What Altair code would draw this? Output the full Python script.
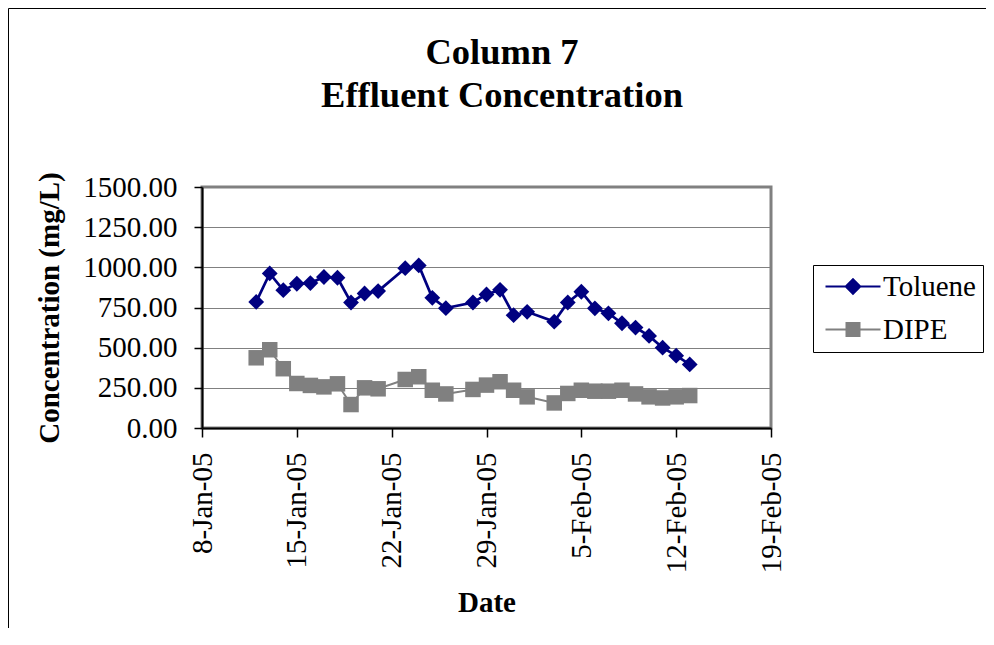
import altair as alt
import pandas as pd

# ---- data ----
dates = ["2005-01-12", "2005-01-13", "2005-01-14", "2005-01-15", "2005-01-16",
         "2005-01-17", "2005-01-18", "2005-01-19", "2005-01-20", "2005-01-21",
         "2005-01-23", "2005-01-24", "2005-01-25", "2005-01-26", "2005-01-28",
         "2005-01-29", "2005-01-30", "2005-01-31", "2005-02-01", "2005-02-03",
         "2005-02-04", "2005-02-05", "2005-02-06", "2005-02-07", "2005-02-08",
         "2005-02-09", "2005-02-10", "2005-02-11", "2005-02-12", "2005-02-13"]
toluene = [785, 962, 858, 898, 902, 940, 935, 781, 837, 852,
           995, 1012, 810, 746, 781, 831, 860, 702, 723, 662,
           781, 848, 745, 714, 652, 625, 573, 500, 450, 396]
dipe = [437, 487, 369, 277, 265, 256, 275, 146, 250, 244,
        302, 319, 235, 212, 240, 267, 288, 235, 194, 156,
        215, 235, 229, 229, 235, 212, 194, 187, 194, 202]
series_names = ["Toluene", "DIPE"]
series_colors = ["#000080", "#808080"]
y_ticks = [0, 250, 500, 750, 1000, 1250, 1500]
x_tick_dates = [(2005, 1, 8), (2005, 1, 15), (2005, 1, 22), (2005, 1, 29),
                (2005, 2, 5), (2005, 2, 12), (2005, 2, 19)]

rows = []
for d, t, p in zip(dates, toluene, dipe):
    rows.append({"date": d + "T00:00:00", "series": "Toluene", "value": t})
    rows.append({"date": d + "T00:00:00", "series": "DIPE", "value": p})
df = pd.DataFrame(rows)

FONT = "Liberation Serif"
tick_vals = [alt.DateTime(year=y, month=m, date=d) for (y, m, d) in x_tick_dates]

x_enc = alt.X("date:T",
              scale=alt.Scale(domain=[tick_vals[0], tick_vals[-1]], nice=False),
              axis=alt.Axis(values=tick_vals, format="%-d-%b-%y", labelAngle=-90,
                            title="Date", grid=False, tickSize=9, labelPadding=15,
                            labelFlush=False, labelOverlap=False, titlePadding=16))
y_enc = alt.Y("value:Q",
              scale=alt.Scale(domain=[0, 1500], nice=False, zero=True),
              axis=alt.Axis(values=y_ticks, format=".2f", title="Concentration (mg/L)",
                            grid=True, tickSize=8, labelPadding=17, titlePadding=18,
                            labelFlush=False, labelOverlap=False))

diamond_path = "M-5.5,0H5.5M0,-1.45L1.45,0L0,1.45L-1.45,0Z"
square_path = "M-5.5,0H5.5M-1.3,-1.3H1.3V1.3H-1.3Z"
shape_expr = "datum.value === 'Toluene' ? '%s' : '%s'" % (diamond_path, square_path)
color_expr = "datum.value === 'Toluene' ? '%s' : '%s'" % (series_colors[0], series_colors[1])

legend = alt.Legend(title=None, orient="none", legendX=611, legendY=78,
                    strokeColor="#000000", fillColor="#ffffff", padding=7,
                    labelFont=FONT, labelFontSize=29, labelColor="#000000", labelLimit=0,
                    symbolSize=100, symbolStrokeWidth=2, symbolOffset=18.5, labelOffset=15.5,
                    rowPadding=13, symbolOpacity=1,
                    symbolType={"expr": shape_expr},
                    symbolFillColor={"expr": color_expr},
                    symbolStrokeColor={"expr": color_expr})

scale_c = alt.Scale(domain=series_names, range=series_colors)
color_enc = alt.Color("series:N", scale=scale_c, legend=legend)

base = alt.Chart(df).encode(x=x_enc, y=y_enc, color=color_enc)

dipe_pts = base.transform_filter(alt.datum.series == "DIPE").mark_point(
    filled=True, shape="square", size=240, opacity=1)
tol_pts = base.transform_filter(alt.datum.series == "Toluene").mark_point(
    filled=True, shape="diamond", size=250, opacity=1)
dipe_line = base.transform_filter(alt.datum.series == "DIPE").mark_line(strokeWidth=2)
tol_line = base.transform_filter(alt.datum.series == "Toluene").mark_line(strokeWidth=2.7)

frame = alt.Chart(alt.Data(values=[{"k": 1}])).mark_rect(
    fill=None, stroke="#000000", strokeWidth=1).encode(
    x=alt.value(-193.5), x2=alt.value(900), y=alt.value(-178.5), y2=alt.value(700))

chart = alt.layer(frame, dipe_pts, tol_pts, dipe_line, tol_line).properties(
    width=569, height=241,
    title=alt.Title(["Column 7", "Effluent Concentration"], font=FONT, fontSize=36.5,
                    fontWeight="bold", color="#000000", lineHeight=43,
                    anchor="middle", frame="group", dx=15.5, offset=0, dy=106),
    autosize=alt.AutoSizeParams(type="none"),
    padding={"left": 194, "top": 179, "right": 215, "bottom": 200},
).configure_view(stroke="#808080", strokeWidth=3).configure_axis(
    labelFont=FONT, labelFontSize=29, labelColor="#000000",
    titleFont=FONT, titleFontSize=29, titleFontWeight="bold", titleColor="#000000",
    domainColor="#000000", domainWidth=2, tickColor="#000000", tickWidth=1.5,
    gridColor="#808080", gridWidth=1.2,
)

chart.save("out.html", embed_options={"renderer": "svg", "actions": False})
